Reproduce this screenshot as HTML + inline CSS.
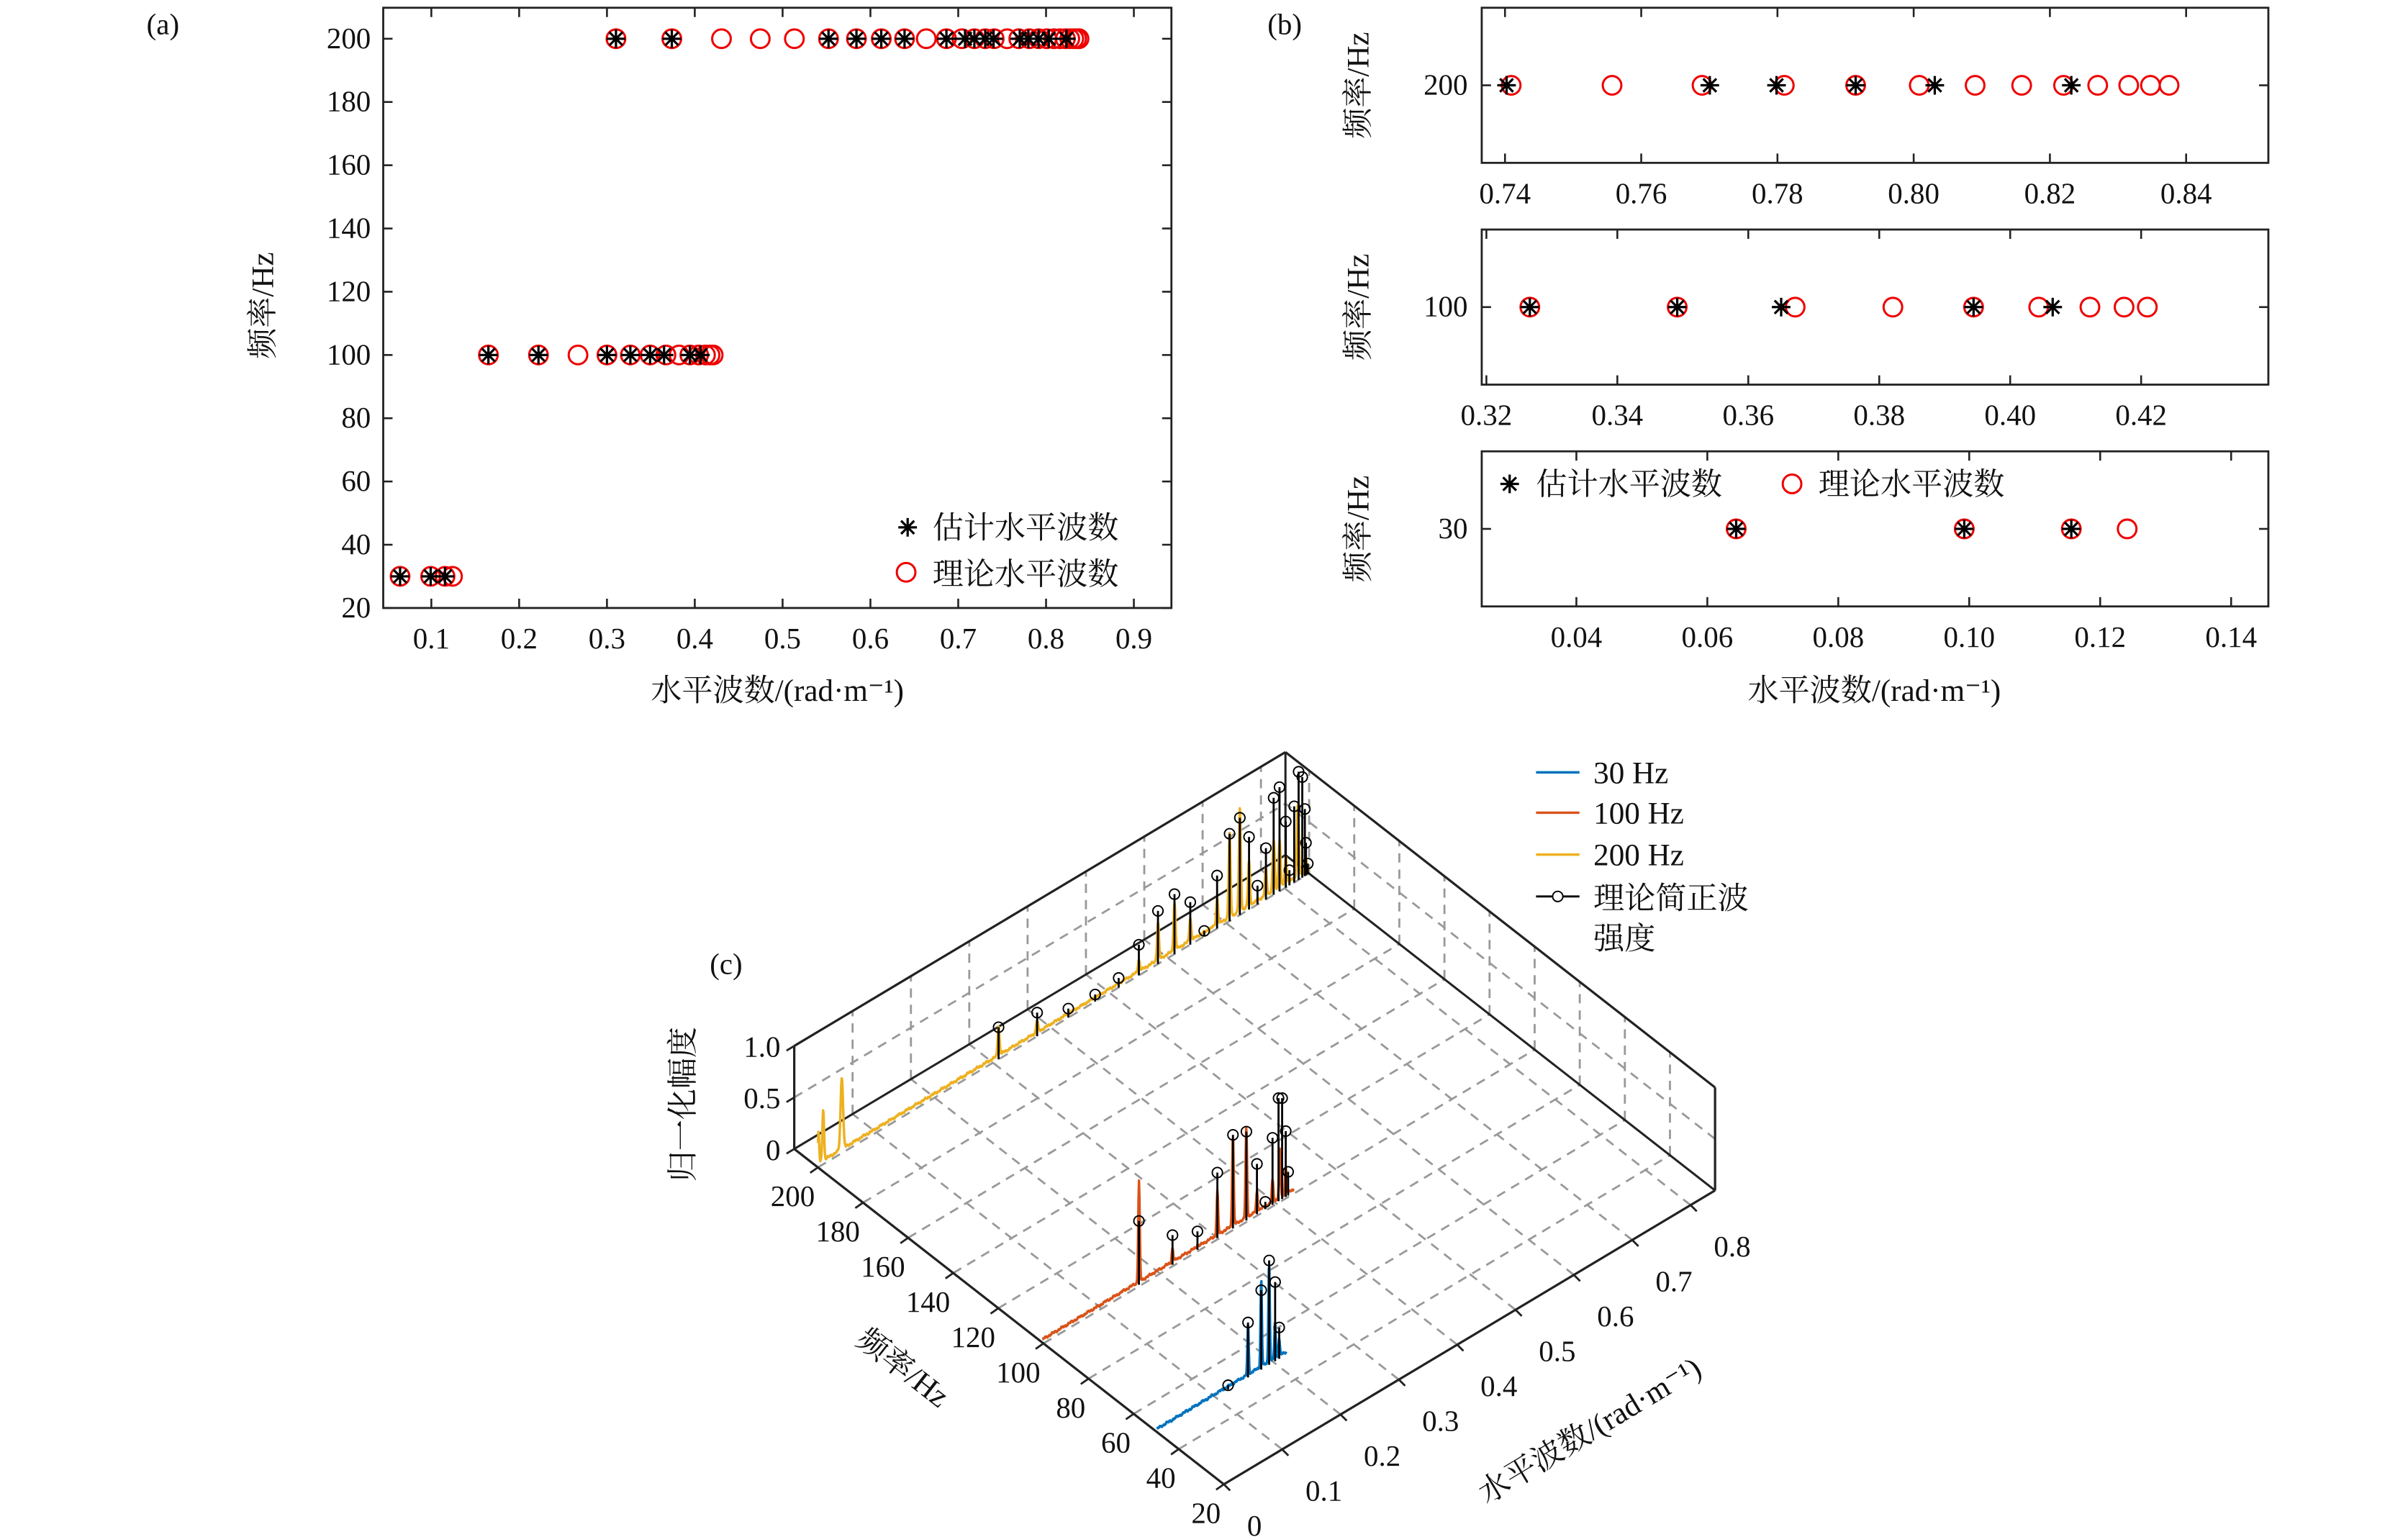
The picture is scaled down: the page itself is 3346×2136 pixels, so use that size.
<!DOCTYPE html>
<html><head><meta charset="utf-8">
<style>
html,body{margin:0;padding:0;background:#fff;}
svg{display:block;}
text{font-family:"Liberation Serif","Noto Serif CJK SC","Noto Sans CJK SC",serif;fill:#111;}
</style></head>
<body>
<svg id="s" xmlns="http://www.w3.org/2000/svg" width="3346" height="2136" viewBox="0 0 1552 991" preserveAspectRatio="none">
<rect width="1552" height="991" fill="#fff"/>
</svg>
<script>
const S=document.getElementById('s');const NS='http://www.w3.org/2000/svg';
function el(t,a,txt){const e=document.createElementNS(NS,t);for(const k in a)e.setAttribute(k,a[k]);if(txt!==undefined)e.textContent=txt;S.appendChild(e);return e;}
function line(x1,y1,x2,y2,st,w,da){const a={x1,y1,x2,y2,stroke:st||'#222','stroke-width':w||1.2};if(da)a['stroke-dasharray']=da;return el('line',a);}
function txt(x,y,s,sz,anchor,extra){const a={x,y,'font-size':sz||19,'text-anchor':anchor||'middle'};if(extra)Object.assign(a,extra);return el('text',a,s);}
function star(x,y){const r=6;for(let i=0;i<4;i++){const a=i*Math.PI/4+Math.PI/2;line(x-r*Math.cos(a),y-r*Math.sin(a),x+r*Math.cos(a),y+r*Math.sin(a),'#000',1.5);}}
function circ(x,y){el('circle',{cx:x,cy:y,r:6,fill:'none',stroke:'#e00','stroke-width':1.4});}

// ---------- panel (a)
const ax={x0:247,x1:755,y0:5,y1:392};
const XA=v=>278+(v-0.1)*566, YA=f=>392-(f-20)*2.039;
el('rect',{x:ax.x0,y:ax.y0,width:ax.x1-ax.x0,height:ax.y1-ax.y0,fill:'none',stroke:'#222','stroke-width':1.3});
for(let i=1;i<=9;i++){const x=XA(i/10);line(x,392,x,386);line(x,5,x,11);txt(x,418,(i/10).toFixed(1),19);}
for(let f=20;f<=200;f+=20){const y=YA(f);line(247,y,253,y);line(755,y,749,y);txt(239,y+6,f,19,'end');}
txt(105,22,'(a)',19);
txt(501,452,'水平波数/(rad·m⁻¹)',20);
txt(0,0,'频率/Hz',20,'middle',{transform:'translate(176,197) rotate(-90)'});
const bv=p=>0.74+(p-970)/4390, mv=p=>0.32+(p-958)/4220, lv=p=>0.04+(p-1016)/4220;
const c30=[1119,1266,1335,1371].map(lv), s30=[1119,1266,1335].map(lv);
const c100=[0.165,0.222,0.267,0.300].concat([986,1081,1157,1220,1272,1314,1347,1369,1384].map(mv));
const s100=[0.165,0.222,0.300].concat([986,1081,1148,1272,1323].map(mv));
const lowc200=[397,433,465,490,512,534,552,568,583,597,610,620,628,635].map(p=>0.1+(p-278)/566);
const lows200=[397,433,534,552,568,583,610,622,628,635].map(p=>0.1+(p-278)/566);
const c200=lowc200.concat([974,1039,1097,1150,1196,1237,1273,1303,1330,1352,1372,1386,1398].map(bv));
const s200=lows200.concat([971,1102,1145,1196,1247,1335].map(bv));
[[c30,30],[c100,100],[c200,200]].forEach(([a,f])=>a.forEach(v=>circ(XA(v),YA(f))));
[[s30,30],[s100,100],[s200,200]].forEach(([a,f])=>a.forEach(v=>star(XA(v),YA(f))));
star(585,340);txt(601,347,'估计水平波数',20,'start');
circ(584,369);txt(601,377,'理论水平波数',20,'start');

// ---------- panel (b)
txt(828,22,'(b)',19);
function bpanel(y0,ticks,xp,lab,fy,cs,ss){
 el('rect',{x:955,y:y0,width:507,height:100,fill:'none',stroke:'#222','stroke-width':1.3});
 ticks.forEach((t,i)=>{const x=xp(t);line(x,y0+100,x,y0+94);line(x,y0,x,y0+6);txt(x,y0+126,t.toFixed(2),19);});
 const yc=y0+50;line(955,yc,961,yc);line(1462,yc,1456,yc);txt(946,yc+6,lab,19,'end');
 txt(0,0,'频率/Hz',20,'middle',{transform:`translate(882,${yc}) rotate(-90)`});
 cs.forEach(p=>circ(p,yc));ss.forEach(p=>star(p,yc));
}
bpanel(5,[0.74,0.76,0.78,0.80,0.82,0.84],v=>970+(v-0.74)*4390,'200',55,[974,1039,1097,1150,1196,1237,1273,1303,1330,1352,1372,1386,1398],[971,1102,1145,1196,1247,1335]);
bpanel(148,[0.32,0.34,0.36,0.38,0.40,0.42],v=>958+(v-0.32)*4220,'100',198,[986,1081,1157,1220,1272,1314,1347,1369,1384],[986,1081,1148,1272,1323]);
bpanel(291,[0.04,0.06,0.08,0.10,0.12,0.14],v=>1016+(v-0.04)*4220,'30',341,[1119,1266,1335,1371],[1119,1266,1335]);
star(973,312);txt(990,319,'估计水平波数',20,'start');
circ(1155,312);txt(1172,319,'理论水平波数',20,'start');
txt(1208,452,'水平波数/(rad·m⁻¹)',20);

// ---------- panel (c) 3D
const KM=0.842,F0=20,FM=210.5,ZS=66.4;
function P(k,f,z){return [788.8+376*k-1.4535*(f-F0), 957-225*k-1.135*(f-F0)-ZS*z];}
function L3(a,b,st,w,da){const p=P(...a),q=P(...b);line(p[0],p[1],q[0],q[1],st,w,da);}
const G='#999',D='6 4.5';
for(let i=1;i<=8;i++){const k=i/10;L3([k,F0,0],[k,FM,0],G,1.3,D);L3([k,FM,0],[k,FM,1],G,1.3,D);}
for(let f=40;f<=200;f+=20){L3([0,f,0],[KM,f,0],G,1.3,D);L3([KM,f,0],[KM,f,1],G,1.3,D);}
L3([0,FM,0.5],[KM,FM,0.5],G,1.3,D);L3([KM,F0,0.5],[KM,FM,0.5],G,1.3,D);
const B='#222';
L3([0,FM,0],[KM,FM,0],B,1.4);L3([KM,FM,0],[KM,F0,0],B,1.4);L3([KM,FM,0],[KM,FM,1],B,1.4);
function noise(k){return 0.006*Math.sin(k*420)+0.005*Math.sin(k*1130+1.3)+0.004*Math.sin(k*2700+0.7);}
function series(f,kend,peaks,base,col){
 const pts=[];
 for(let k=0;k<=kend+1e-9;k+=0.0008){let z=base+noise(k);for(const p of peaks)z+=p[1]*Math.exp(-Math.pow((k-p[0])/p[2],2));const q=P(k,f,z);pts.push(q[0].toFixed(1)+','+q[1].toFixed(1));}
 el('polyline',{points:pts.join(' '),fill:'none',stroke:col,'stroke-width':1.6,'stroke-linejoin':'round'});
}
function stems(f,list){list.forEach(([k,z])=>{const a=P(k,f,0),b=P(k,f,z);line(a[0],a[1],b[0],b[1],'#000',1.3);el('circle',{cx:b[0],cy:b[1],r:3.3,fill:'none',stroke:'#000','stroke-width':0.9});});}
const yk=zx=>((500.9+0.2367*zx)-527.2)/376, yz=(zx,zy)=>{const k=yk(zx);return (752.1-225*k-(482.4+0.1716*zy))/ZS;};
const ySt=[[603,1045],[708,990],[793,975],[866,922],[930,860],[985,735],[1037,608],[1082,545],[1125,575],[1163,683],[1198,475],[1232,318],[1260,258],[1285,330],[1308,513],[1331,372],[1352,183],[1368,143],[1385,272],[1395,455],[1408,215],[1420,85],[1430,105],[1437,225],[1440,352],[1445,430]];
const yPk=[[603,1040],[708,1020],[985,790],[1037,650],[1082,575],[1125,635],[1198,560],[1232,320],[1260,225],[1285,420],[1331,450],[1352,340],[1368,340],[1385,400],[1418,205],[1440,410]];
const yPeaks=yPk.map(([a,b])=>[yk(a),Math.max(0,yz(a,b)-0.04),0.0022]).concat([[0.001,0.3,0.0015],[0.009,0.5,0.002],[0.041,0.7,0.003]]);
series(200,0.843,yPeaks,0.04,'#EDB120');
stems(200,ySt.map(([a,b])=>[yk(a),yz(a,b)]));
const rk=zx=>((667.9+0.1546*zx)-671.8)/376, rz=(zx,zy)=>{const k=rk(zx);return (864.5-225*k-(695.7+0.16*zy))/ZS;};
const rSt=[[428,565],[568,622],[672,607],[755,370],[820,218],[876,205],[920,335],[955,488],[985,230],[1010,70],[1025,70],[1040,203],[1050,367]];
const rPk=[[428,405],[568,675],[672,660],[755,445],[820,215],[876,190],[920,445],[985,400],[1015,275],[1040,350]];
series(100.5,0.432,rPk.map(([a,b])=>[rk(a),Math.max(0,rz(a,b)-0.03),0.0018]),0.03,'#D95319');
stems(100.5,rSt.map(([a,b])=>[rk(a),rz(a,b)]));
const bk=zx=>((667.9+0.1546*zx)-745.2)/376, bz=(zx,zy)=>{const k=bk(zx);return (922.3-225*k-(695.7+0.16*zy))/ZS;};
const bSt=[[797,1228],[880,975],[935,845],[968,725],[993,812],[1010,995]];
const bPk=[[880,985],[935,795],[968,725],[993,970],[1010,1040]];
series(49.7,0.222,bPk.map(([a,b])=>[bk(a),Math.max(0,bz(a,b)-0.03),0.0016]),0.03,'#0072BD');
stems(49.7,bSt.map(([a,b])=>[bk(a),bz(a,b)]));
L3([0,FM,0],[0,FM,1],B,1.5);L3([0,FM,1],[KM,FM,1],B,1.5);L3([KM,FM,1],[KM,F0,1],B,1.5);
L3([KM,F0,1],[KM,F0,0],B,1.5);L3([0,FM,0],[0,F0,0],B,1.5);L3([0,F0,0],[KM,F0,0],B,1.5);
[0,0.5,1].forEach(z=>{const p=P(0,FM,z);line(p[0],p[1],p[0]-5,p[1]+3,B,1.3);txt(503,p[1]+7,z===0?'0':z.toFixed(1),19,'end');});
for(let f=20;f<=200;f+=20){const p=P(0,f,0);line(p[0],p[1],p[0]-5,p[1]+3.5,B,1.3);txt(p[0]-2,p[1]+25,f,19,'end');}
for(let i=0;i<=8;i++){const p=P(i/10,F0,0);line(p[0],p[1],p[0]+4,p[1]+4,B,1.3);txt(p[0]+15,p[1]+33,i===0?'0':(i/10).toFixed(1),19,'start');}
txt(468,628,'(c)',19);
txt(0,0,'归一化幅度',20,'middle',{transform:'translate(447,712) rotate(-90)'});
txt(0,0,'频率/Hz',20,'middle',{transform:'translate(578,887) rotate(38)'});
txt(0,0,'水平波数/(rad·m⁻¹)',20,'middle',{transform:'translate(1028,928) rotate(-31)'});
[['30 Hz','#0072BD',498],['100 Hz','#D95319',524],['200 Hz','#EDB120',551]].forEach(([s,c,y])=>{line(990,y,1018,y,c,1.6);txt(1027,y+7,s,20,'start');});
line(990,578,1018,578,'#000',1.3);el('circle',{cx:1004,cy:578,r:3.3,fill:'#fff',stroke:'#000','stroke-width':0.9});
txt(1027,586,'理论简正波',20,'start');txt(1027,612,'强度',20,'start');
</script>
</body></html>
